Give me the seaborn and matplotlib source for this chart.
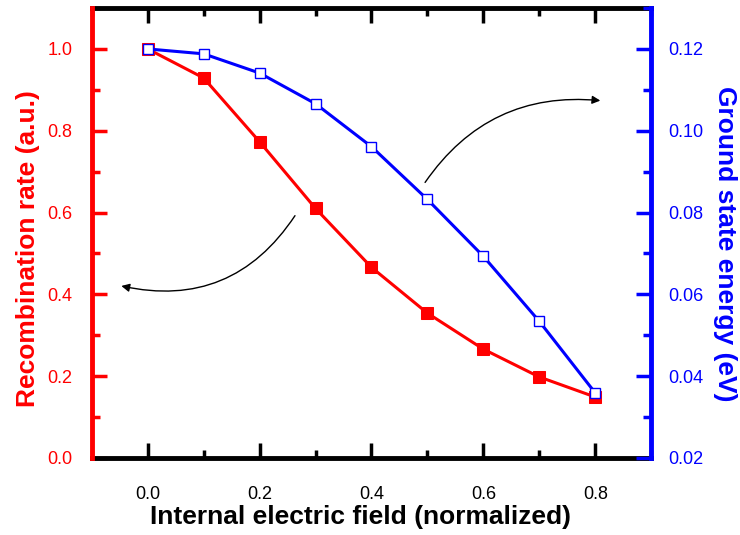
import numpy as np
import pandas as pd
import matplotlib
matplotlib.use("Agg")
import matplotlib.pyplot as plt
from matplotlib.ticker import MultipleLocator, FormatStrFormatter
import seaborn as sns

# values
field = [0.0, 0.1, 0.2, 0.3, 0.4, 0.5, 0.6, 0.7, 0.8]
recomb = [1.0, 0.929, 0.773, 0.610, 0.466, 0.354, 0.266, 0.198, 0.149]
energy = [0.120, 0.1188, 0.1141, 0.1066, 0.0961, 0.0832, 0.0693, 0.0534, 0.0359]

df = pd.DataFrame({"field": field, "recomb": recomb, "energy": energy})

sns.set_style("ticks")
plt.rcParams['font.family'] = ['Liberation Sans', 'DejaVu Sans']

fig, ax = plt.subplots(figsize=(7.4, 5.35), dpi=100)
fig.subplots_adjust(left=0.124, right=0.880, top=0.985, bottom=0.144)
ax2 = ax.twinx()

sns.lineplot(data=df, x="field", y="recomb", ax=ax, color="red", lw=2.2,
             marker="s", markersize=8, markeredgecolor="red", markerfacecolor="red")
sns.lineplot(data=df, x="field", y="energy", ax=ax2, color="blue", lw=2.2,
             marker="s", markersize=7.5, markeredgecolor="blue", markerfacecolor="white",
             markeredgewidth=1.0)

ax.set_xlim(-0.1, 0.9)
ax.set_ylim(0, 1.1)
ax2.set_ylim(0.02, 0.13)

ax.xaxis.set_major_locator(MultipleLocator(0.2))
ax.xaxis.set_minor_locator(MultipleLocator(0.1))
ax.yaxis.set_major_locator(MultipleLocator(0.2))
ax.yaxis.set_minor_locator(MultipleLocator(0.1))
ax2.yaxis.set_major_locator(MultipleLocator(0.02))
ax2.yaxis.set_minor_locator(MultipleLocator(0.01))
ax.xaxis.set_major_formatter(FormatStrFormatter("%.1f"))
ax.yaxis.set_major_formatter(FormatStrFormatter("%.1f"))
ax2.yaxis.set_major_formatter(FormatStrFormatter("%.2f"))

# spines
for s in ["top", "bottom"]:
    ax.spines[s].set_color("black")
    ax.spines[s].set_linewidth(3.5)
ax.spines["left"].set_color("red")
ax.spines["left"].set_linewidth(3.5)
ax.spines["left"].set_zorder(5)
ax.spines["right"].set_visible(False)
for s in ["top", "bottom", "left"]:
    ax2.spines[s].set_visible(False)
ax2.spines["right"].set_visible(True)
ax2.spines["right"].set_color("blue")
ax2.spines["right"].set_linewidth(3.5)

# ticks
ax.tick_params(axis="x", which="both", direction="in", top=True, bottom=True,
               colors="black", labelsize=13, pad=20)
ax.tick_params(axis="x", which="major", length=11, width=2.5)
ax.tick_params(axis="x", which="minor", length=6, width=2.5)
ax.tick_params(axis="y", which="both", direction="in", left=True, right=False,
               colors="red", labelsize=13, pad=14)
ax.tick_params(axis="y", which="major", length=11, width=2.5)
ax.tick_params(axis="y", which="minor", length=6, width=2.5)
ax2.tick_params(axis="y", which="both", direction="in", right=True, left=False,
                colors="blue", labelsize=13, pad=12)
ax2.tick_params(axis="y", which="major", length=11, width=2.5)
ax2.tick_params(axis="y", which="minor", length=6, width=2.5)

ax.set_xlabel("Internal electric field (normalized)", fontsize=19, fontweight="bold",
              color="black")
ax.set_ylabel("Recombination rate (a.u.)", fontsize=19, fontweight="bold", color="red")
ax2.set_ylabel("Ground state energy (eV)", fontsize=19, fontweight="bold", color="blue",
               rotation=270, va="bottom")
ax.xaxis.set_label_coords(0.48, -0.105)
ax.yaxis.set_label_coords(-0.092, 0.465)
ax2.yaxis.set_label_coords(1.11, 0.476)

# curved arrows
ax.annotate("", xy=(-0.052, 0.422), xytext=(0.266, 0.598),
            arrowprops=dict(arrowstyle="-|>", color="black", lw=1.0,
                            connectionstyle="arc3,rad=-0.35", mutation_scale=12))
ax.annotate("", xy=(0.814, 0.873), xytext=(0.493, 0.668),
            arrowprops=dict(arrowstyle="-|>", color="black", lw=1.0,
                            connectionstyle="arc3,rad=-0.3", mutation_scale=12))

plt.savefig("out.png", dpi=100)
